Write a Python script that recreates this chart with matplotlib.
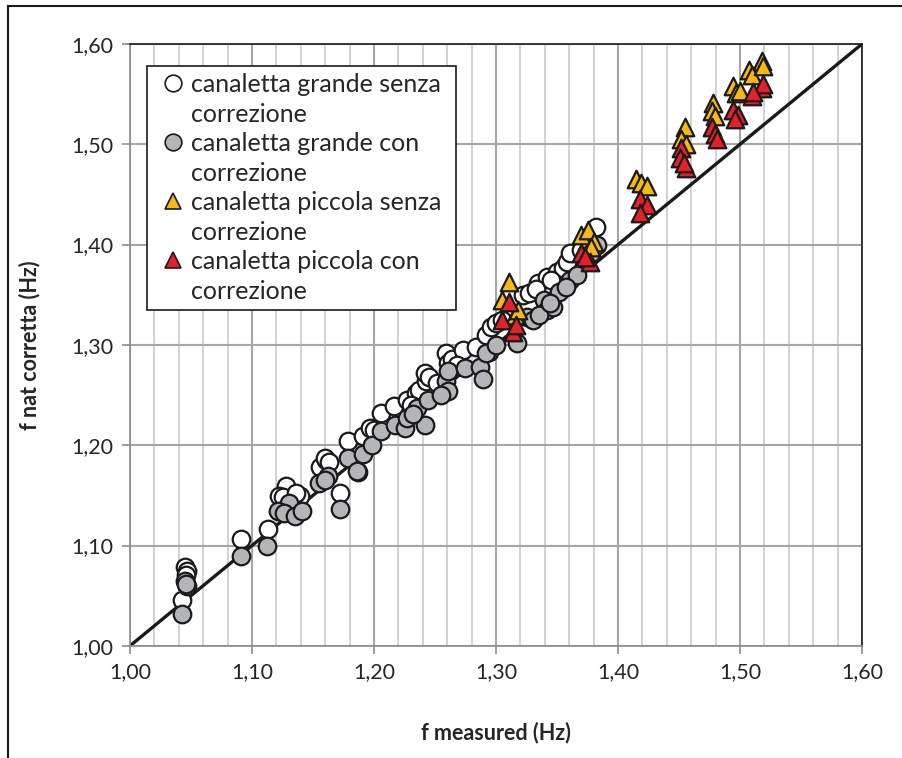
import matplotlib
matplotlib.use("Agg")
import matplotlib.pyplot as plt
from matplotlib.lines import Line2D
from matplotlib.ticker import MultipleLocator, FuncFormatter

plt.rcParams['font.family'] = ['Lato', 'DejaVu Sans']

# canaletta grande, senza correzione
gs_x = [1.045, 1.047, 1.046, 1.043, 1.091, 1.113, 1.128, 1.122, 1.125, 1.139,
        1.136, 1.172, 1.156, 1.161, 1.160, 1.163, 1.179, 1.191, 1.197, 1.200,
        1.206, 1.216, 1.227, 1.234, 1.237, 1.243, 1.242, 1.245, 1.259, 1.261,
        1.264, 1.273, 1.284, 1.292, 1.296, 1.300, 1.305, 1.3225, 1.327, 1.3346,
        1.3415, 1.3497, 1.355, 1.358, 1.361, 1.370, 1.375, 1.382, 1.230, 1.252,
        1.268, 1.333, 1.345]
gs_y = [1.079, 1.075, 1.071, 1.046, 1.106, 1.116, 1.159, 1.149, 1.148, 1.149,
        1.152, 1.152, 1.178, 1.185, 1.187, 1.183, 1.204, 1.209, 1.217, 1.215,
        1.232, 1.239, 1.245, 1.252, 1.255, 1.264, 1.272, 1.268, 1.292, 1.282,
        1.286, 1.295, 1.298, 1.310, 1.318, 1.322, 1.325, 1.350, 1.352, 1.362,
        1.368, 1.373, 1.377, 1.383, 1.392, 1.395, 1.405, 1.418, 1.240, 1.262,
        1.280, 1.356, 1.365]

# canaletta grande, con correzione
gc_x = [1.045, 1.047, 1.046, 1.043, 1.091, 1.1125, 1.130, 1.1216, 1.126, 1.135,
        1.141, 1.172, 1.155, 1.1626, 1.160, 1.179, 1.187, 1.186, 1.191, 1.198,
        1.206, 1.217, 1.225, 1.227, 1.235, 1.242, 1.244, 1.259, 1.261, 1.261,
        1.2746, 1.287, 1.289, 1.294, 1.292, 1.300, 1.317, 1.325, 1.3306, 1.339,
        1.3415, 1.347, 1.352, 1.361, 1.366, 1.378, 1.3825, 1.232, 1.255, 1.335,
        1.344, 1.357]
gc_y = [1.065, 1.060, 1.062, 1.032, 1.090, 1.100, 1.142, 1.134, 1.132, 1.129,
        1.134, 1.136, 1.162, 1.169, 1.165, 1.187, 1.173, 1.174, 1.191, 1.200,
        1.214, 1.220, 1.217, 1.227, 1.237, 1.220, 1.245, 1.264, 1.254, 1.274,
        1.277, 1.278, 1.266, 1.293, 1.292, 1.300, 1.302, 1.328, 1.325, 1.345,
        1.335, 1.338, 1.353, 1.365, 1.370, 1.392, 1.400, 1.231, 1.250, 1.330,
        1.342, 1.358]

# canaletta piccola, senza correzione
ps_x = [1.311, 1.3046, 1.3156, 1.318, 1.370, 1.375, 1.380, 1.378, 1.415, 1.419,
        1.4235, 1.455, 1.452, 1.456, 1.478, 1.477, 1.4795, 1.494, 1.497, 1.500,
        1.507, 1.5095, 1.5177, 1.519]
ps_y = [1.363, 1.345, 1.330, 1.335, 1.410, 1.415, 1.403, 1.398, 1.465, 1.461,
        1.458, 1.517, 1.505, 1.500, 1.541, 1.533, 1.528, 1.558, 1.551, 1.553,
        1.574, 1.569, 1.583, 1.578]

# canaletta piccola, con correzione
pc_x = [1.311, 1.3046, 1.314, 1.316, 1.370, 1.377, 1.373, 1.418, 1.4235, 1.418,
        1.452, 1.451, 1.456, 1.454, 1.477, 1.4795, 1.481, 1.494, 1.4986, 1.496,
        1.5095, 1.5177, 1.519, 1.511]
pc_y = [1.343, 1.325, 1.313, 1.320, 1.392, 1.383, 1.388, 1.445, 1.439, 1.431,
        1.496, 1.486, 1.476, 1.481, 1.517, 1.510, 1.505, 1.534, 1.529, 1.525,
        1.548, 1.556, 1.560, 1.552]

fig = plt.figure(figsize=(9.03, 7.58), dpi=100)
ax = fig.add_axes([0.144, 0.148, 0.8106, 0.794])

ax.plot([1.0, 1.6], [1.0, 1.6], color='#1a1a1a', lw=2.4, zorder=2,
        solid_capstyle='butt')

mk = dict(s=160, linewidths=1.6, edgecolors='#1a1a1a', zorder=3)
ax.scatter(gs_x, gs_y, marker='o', facecolors='white', **mk)
ax.scatter(gc_x, gc_y, marker='o', facecolors='#b4b5b8', **mk)
ax.scatter(ps_x, ps_y, marker='^', facecolors='#f6b910', **mk)
ax.scatter(pc_x, pc_y, marker='^', facecolors='#e5202a', **mk)

ax.set_xlim(1.0, 1.6)
ax.set_ylim(1.0, 1.6)
ax.xaxis.set_major_locator(MultipleLocator(0.1))
ax.xaxis.set_minor_locator(MultipleLocator(0.02))
ax.yaxis.set_major_locator(MultipleLocator(0.1))
fmt = FuncFormatter(lambda v, p: f"{v:.2f}".replace('.', ','))
ax.xaxis.set_major_formatter(fmt)
ax.yaxis.set_major_formatter(fmt)

ax.grid(True, which='major', color='#a6a6a6', lw=1.5, zorder=0)
ax.grid(True, which='minor', axis='x', color='#cfcfcf', lw=1.3, zorder=0)
ax.set_axisbelow(True)

ax.tick_params(which='major', direction='out', length=6, width=1.2,
               color='#8c8c8c', labelsize=15.5, labelcolor='#262626', pad=6)
ax.tick_params(which='minor', length=0)
for side in ('left', 'bottom'):
    ax.spines[side].set_color('#8c8c8c')
    ax.spines[side].set_linewidth(1.2)
for side in ('top', 'right'):
    ax.spines[side].set_color('#1a1a1a')
    ax.spines[side].set_linewidth(1.2)

ax.set_xlabel('f measured (Hz)', fontsize=15.5, fontweight='bold',
              color='#262626', labelpad=28)
ax.set_ylabel('f nat corretta (Hz)', fontsize=15.5, fontweight='bold',
              color='#262626', labelpad=22)

# legend: one marker per series, second text line on a blank row
def legend_marker(shape, face):
    return Line2D([], [], linestyle='none', marker=shape, markersize=12,
                  markerfacecolor=face, markeredgecolor='#1a1a1a',
                  markeredgewidth=1.2)

blank = Line2D([], [], linestyle='none')
handles = [legend_marker('o', 'white'), blank,
           legend_marker('o', '#b4b5b8'), blank,
           legend_marker('^', '#f6b910'), blank,
           legend_marker('^', '#e5202a'), blank]
labels = ['canaletta grande senza', 'correzione',
          'canaletta grande con', 'correzione',
          'canaletta piccola senza', 'correzione',
          'canaletta piccola con', 'correzione']
leg = ax.legend(handles, labels, loc='upper left',
                bbox_to_anchor=(0.023, 0.5, 0.422, 0.463), mode='expand',
                borderaxespad=0, fontsize=18, labelspacing=0.26,
                handlelength=1.5, handletextpad=0.0, borderpad=0.28,
                fancybox=False, framealpha=1, edgecolor='#1a1a1a')
leg.get_frame().set_linewidth(1.2)
for t in leg.get_texts():
    t.set_color('#262626')

# outer border lines
fig.add_artist(Line2D([8 / 903, 8 / 903], [0, 1 - 6 / 758], color='#1a1a1a',
                      lw=1.5, transform=fig.transFigure))
fig.add_artist(Line2D([8 / 903, 1], [1 - 6 / 758, 1 - 6 / 758], color='#1a1a1a',
                      lw=1.5, transform=fig.transFigure))

fig.savefig('out.png', dpi=100)
